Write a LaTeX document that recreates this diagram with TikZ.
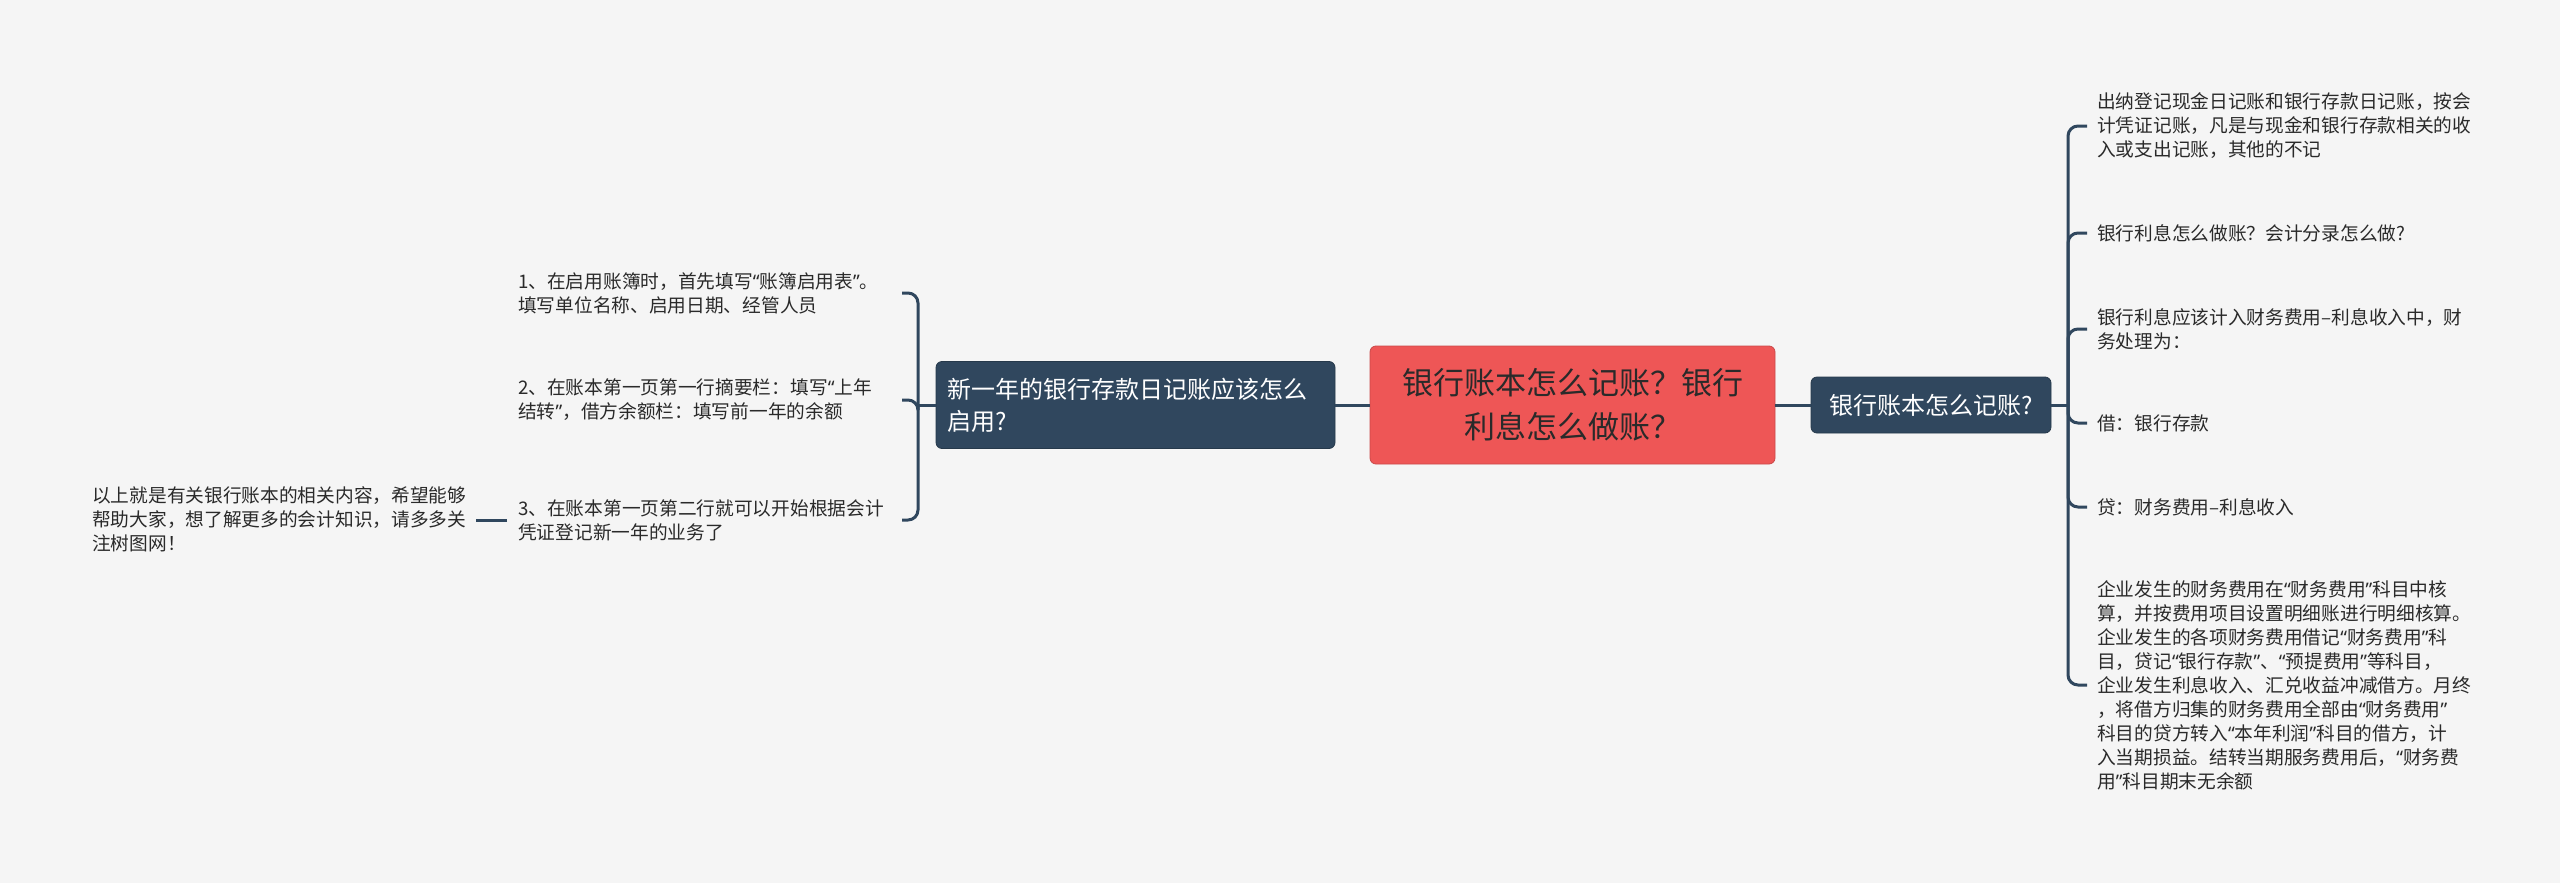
\documentclass[tikz,border=0pt]{standalone}
\usepackage{fontspec}
\setmainfont{Noto Sans CJK SC}
\newfontfamily\qfont{Noto Sans}
\newcommand{\qo}{{\qfont “}}
\newcommand{\qc}{{\qfont ”}}
\definecolor{bg}{HTML}{F5F5F5}
\definecolor{navy}{HTML}{30475E}
\definecolor{redn}{HTML}{EE5656}
\definecolor{txt}{HTML}{2A2A2A}
\tikzset{
  central/.style={fill=redn, draw=redn!85!black, line width=0.8pt, rounded corners=6pt, text=txt,
    font=\fontsize{31}{44}\selectfont, align=center, minimum width=405pt, minimum height=118pt, inner sep=0pt},
  topic/.style={fill=navy, draw=navy!80!black, line width=0.8pt, rounded corners=6pt, text=white,
    font=\fontsize{24}{32}\selectfont, inner sep=0pt},
  leaf/.style={anchor=west, inner sep=0pt, align=left, text=txt, font=\fontsize{18.7}{24}\selectfont},
  conn/.style={draw=navy, line width=3pt},
}
\begin{document}
\begin{tikzpicture}[x=1pt,y=-1pt]
\fill[bg] (0,0) rectangle (2560,883);
\useasboundingbox (0,0) rectangle (2560,883);

\node[central] (c) at (1572.5,405) {银行账本怎么记账？银行\\利息怎么做账？};
\node[topic, minimum width=240pt, minimum height=56pt, align=center] (r) at (1931,405) {银行账本怎么记账?};
\node[topic, text width=377pt, inner xsep=11pt, minimum height=87pt, align=left] (l) at (1135.5,405) {新一年的银行存款日记账应该怎么\\启用?};

\node[leaf] (r1) at (2097,126) {出纳登记现金日记账和银行存款日记账，按会\\计凭证记账，凡是与现金和银行存款相关的收\\入或支出记账，其他的不记};
\node[leaf] (r2) at (2097,233) {银行利息怎么做账？会计分录怎么做?};
\node[leaf] (r3) at (2097,329) {银行利息应该计入财务费用–利息收入中，财\\务处理为：};
\node[leaf] (r4) at (2097,423) {借：银行存款};
\node[leaf] (r5) at (2097,507) {贷：财务费用–利息收入};
\node[leaf] (r6) at (2097,685) {企业发生的财务费用在\qo 财务费用\qc 科目中核\\算，并按费用项目设置明细账进行明细核算。\\企业发生的各项财务费用借记\qo 财务费用\qc 科\\目，贷记\qo 银行存款\qc 、\qo 预提费用\qc 等科目，\\企业发生利息收入、汇兑收益冲减借方。月终\\，将借方归集的财务费用全部由\qo 财务费用\qc\\科目的贷方转入\qo 本年利润\qc 科目的借方，计\\入当期损益。结转当期服务费用后，\qo 财务费\\用\qc 科目期末无余额};

\node[leaf] (l1) at (518,293) {1、在启用账簿时，首先填写\qo 账簿启用表\qc 。\\填写单位名称、启用日期、经管人员};
\node[leaf] (l2) at (518,400) {2、在账本第一页第一行摘要栏：填写\qo 上年\\结转\qc ，借方余额栏：填写前一年的余额};
\node[leaf] (l3) at (518,520) {3、在账本第一页第二行就可以开始根据会计\\凭证登记新一年的业务了};
\node[leaf] (fl) at (92,519) {以上就是有关银行账本的相关内容，希望能够\\帮助大家，想了解更多的会计知识，请多多关\\注树图网！};

\coordinate (rj) at (2068,405);
\coordinate (rh) at (2087,0);
\coordinate (lj) at (918,405);
\coordinate (lh) at (902,0);

\draw[conn] (l.east) -- (c.west);
\draw[conn] (c.east) -- (r.west);
\draw[conn] (r.east) -- (rj);
\draw[conn] (l.west) -- (lj);
\foreach \n in {r1,r2,r3,r4,r5,r6}
  \draw[conn, rounded corners=10pt] (rj) |- (rh |- \n.west);
\foreach \n in {l1,l2,l3}
  \draw[conn, rounded corners=10pt] (lj) |- (lh |- \n.west);
\coordinate (fle) at ([xshift=10pt]fl.east);
\draw[conn] ([xshift=-11pt]l3.west) -- (fle |- l3.west);
\end{tikzpicture}
\end{document}
